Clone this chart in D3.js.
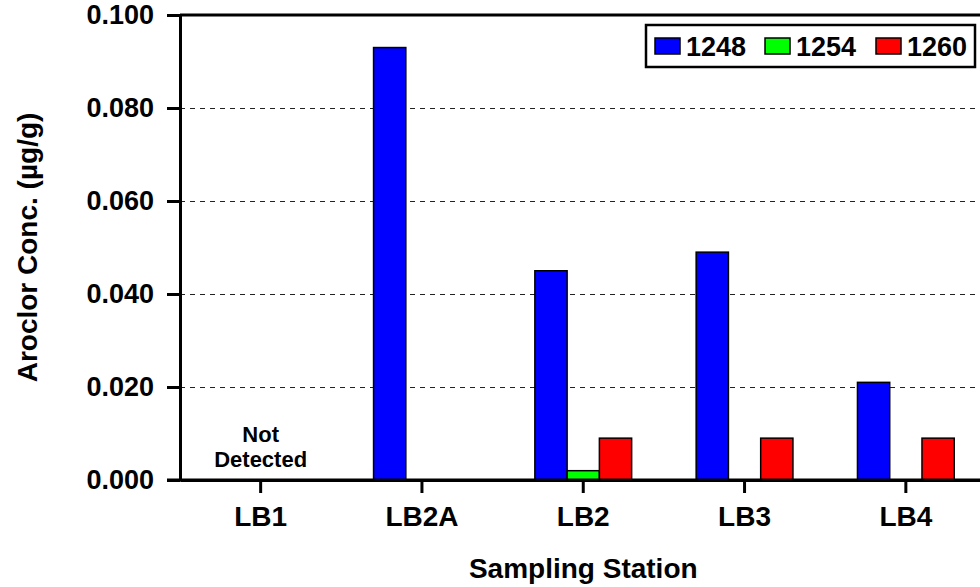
<!DOCTYPE html>
<html>
<head>
<meta charset="utf-8">
<script src="https://cdn.jsdelivr.net/npm/d3@7/dist/d3.min.js"></script>
<style>
  body { margin: 0; background: #fff; }
  svg { display: block; font-family: "Liberation Sans", Arial, sans-serif; font-weight: bold; }
</style>
</head>
<body>
<svg id="chart" width="980" height="587"></svg>
<script>
// values
const stations = ["LB1", "LB2A", "LB2", "LB3", "LB4"];
const aroclors = ["1248", "1254", "1260"];
const a1248 = [0, 0.093, 0.045, 0.049, 0.021];
const a1254 = [0, 0, 0.002, 0, 0];
const a1260 = [0, 0, 0.009, 0.009, 0.009];
const yTicks = [0, 0.02, 0.04, 0.06, 0.08, 0.1];
const colors = ["#0000ff", "#00ff00", "#ff0000"];

const series = [a1248, a1254, a1260];

var svg = d3.select("#chart"),
  margin = { top: 15, left: 180, bottom: 480, right: 986.5 };

var x0 = d3
  .scaleBand()
  .domain(stations)
  .range([margin.left, margin.right])
  .paddingInner(0.4)
  .paddingOuter(0.2);

var x1 = d3.scaleBand().domain(aroclors).range([0, x0.bandwidth()]);

var y = d3.scaleLinear().domain([0, 0.1]).range([margin.bottom, margin.top]);

var z = d3.scaleOrdinal().domain(aroclors).range(colors);

// dashed grid lines
svg
  .append("g")
  .selectAll("line")
  .data(yTicks.filter(d => d > 0 && d < 0.1))
  .join("line")
  .attr("x1", margin.left)
  .attr("x2", margin.right)
  .attr("y1", d => y(d))
  .attr("y2", d => y(d))
  .attr("stroke", "#222")
  .attr("stroke-width", 1)
  .attr("stroke-dasharray", "5,5")
  .style("shape-rendering", "crispEdges");

// bars
var rows = stations.map((s, i) => ({
  station: s,
  values: aroclors.map((a, j) => ({ key: a, value: series[j][i] }))
}));

svg
  .append("g")
  .selectAll("g")
  .data(rows)
  .join("g")
  .attr("transform", d => "translate(" + x0(d.station) + ",0)")
  .selectAll("rect")
  .data(d => d.values.filter(v => v.value > 0))
  .join("rect")
  .attr("x", d => x1(d.key))
  .attr("y", d => y(d.value))
  .attr("width", x1.bandwidth())
  .attr("height", d => y(0) - y(d.value))
  .attr("fill", d => z(d.key))
  .attr("stroke", "#000")
  .attr("stroke-width", 1.5);

// top frame line
svg
  .append("line")
  .attr("x1", margin.left)
  .attr("x2", margin.right)
  .attr("y1", y(0.1))
  .attr("y2", y(0.1))
  .attr("stroke", "#000")
  .attr("stroke-width", 3);

// y axis
var yAxis = svg
  .append("g")
  .attr("transform", "translate(" + margin.left + ",0)")
  .call(
    d3
      .axisLeft(y)
      .tickValues(yTicks)
      .tickFormat(d3.format(".3f"))
      .tickSize(13)
      .tickSizeOuter(0)
      .tickPadding(13)
  );

// x axis
var xAxis = svg
  .append("g")
  .attr("transform", "translate(0," + margin.bottom + ")")
  .call(d3.axisBottom(x0).tickSize(13).tickSizeOuter(0).tickPadding(13.5));

[yAxis, xAxis].forEach(g => {
  g.selectAll("path.domain").attr("stroke", "#000").attr("stroke-width", 3);
  g.selectAll(".tick line").attr("stroke", "#000").attr("stroke-width", 3);
  g.selectAll(".tick text")
    .attr("fill", "#000")
    .style("font-family", "'Liberation Sans', Arial, sans-serif")
    .style("font-weight", "bold");
});
yAxis.selectAll(".tick text").style("font-size", "27px");
xAxis.selectAll(".tick text").style("font-size", "28px");

// bottom axis line extends left over the zero tick
svg
  .append("line")
  .attr("x1", margin.left - 13)
  .attr("x2", margin.right)
  .attr("y1", y(0))
  .attr("y2", y(0))
  .attr("stroke", "#000")
  .attr("stroke-width", 3);

// Not Detected note for LB1
var nd = svg
  .append("text")
  .attr("text-anchor", "middle")
  .style("font-size", "22px");
nd.append("tspan").attr("x", x0("LB1") + x0.bandwidth() / 2).attr("y", 442).text("Not");
nd.append("tspan").attr("x", x0("LB1") + x0.bandwidth() / 2).attr("y", 467).text("Detected");

// axis titles
svg
  .append("text")
  .attr("text-anchor", "middle")
  .attr("x", (margin.left + margin.right) / 2)
  .attr("y", 578)
  .style("font-size", "28px")
  .text("Sampling Station");

svg
  .append("text")
  .attr("text-anchor", "middle")
  .attr("transform", "translate(37," + (margin.top + margin.bottom) / 2 + ") rotate(-90)")
  .style("font-size", "28px")
  .text("Aroclor Conc. (µg/g)");

// legend
var legend = svg.append("g");
legend
  .append("rect")
  .attr("x", 646)
  .attr("y", 25)
  .attr("width", 329)
  .attr("height", 42)
  .attr("fill", "#fff")
  .attr("stroke", "#000")
  .attr("stroke-width", 2.5);

var legendX = [655, 765, 876];
var item = legend
  .selectAll("g.item")
  .data(aroclors)
  .join("g")
  .attr("class", "item")
  .attr("transform", (d, i) => "translate(" + legendX[i] + ",0)");
item
  .append("rect")
  .attr("y", 38)
  .attr("width", 25)
  .attr("height", 16)
  .attr("fill", d => z(d))
  .attr("stroke", "#000")
  .attr("stroke-width", 1.5);
item
  .append("text")
  .attr("x", 31)
  .attr("y", 56)
  .style("font-size", "27px")
  .text(d => d);
</script>
</body>
</html>
